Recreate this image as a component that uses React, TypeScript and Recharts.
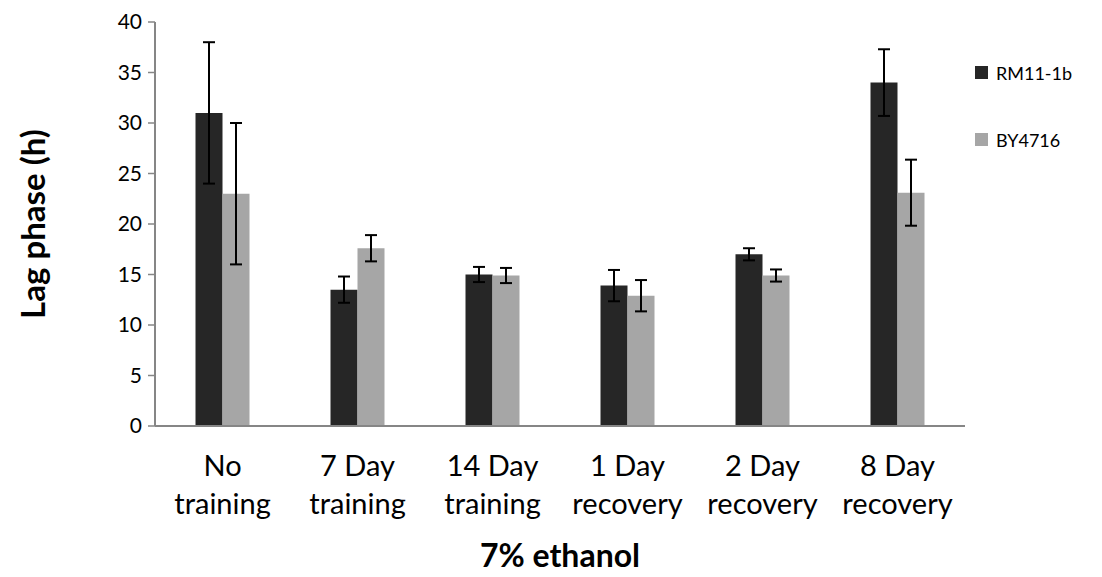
import React from 'react';
import { BarChart, Bar, XAxis, YAxis, ErrorBar } from 'recharts';

const categories = ['No training', '7 Day training', '14 Day training', '1 Day recovery', '2 Day recovery', '8 Day recovery'];
const labelLine1 = ['No', '7 Day', '14 Day', '1 Day', '2 Day', '8 Day'];
const labelLine2 = ['training', 'training', 'training', 'recovery', 'recovery', 'recovery'];
const rm11 = [31, 13.5, 15, 13.9, 17, 34];
const rm11Err = [7, 1.3, 0.75, 1.55, 0.6, 3.3];
const by4716 = [23, 17.6, 14.9, 12.9, 14.9, 23.1];
const by4716Err = [7, 1.3, 0.75, 1.55, 0.6, 3.27];
const yTicks = [0, 5, 10, 15, 20, 25, 30, 35, 40];
const seriesNames = ['RM11-1b', 'BY4716'];

const data = categories.map((c, i) => ({
  name: c,
  rm: rm11[i],
  rmErr: rm11Err[i],
  by: by4716[i],
  byErr: by4716Err[i],
}));

const FONT = 'Lato, "Open Sans", sans-serif';
const DARK = '#262626';
const LIGHT = '#a6a6a6';
const AXIS = '#868686';
const SERIES_COLORS = [DARK, LIGHT];

const XTick = (props: any) => {
  const { x, y, payload, index } = props;
  const i = payload?.index ?? index;
  return (
    <g transform={`translate(${x},${y})`}>
      <text textAnchor="middle" fontFamily={FONT} fontSize={29} fill="#000">
        <tspan x={0} dy={42}>{labelLine1[i]}</tspan>
        <tspan x={0} dy={38}>{labelLine2[i]}</tspan>
      </text>
    </g>
  );
};

export default function App() {
  return (
    <div style={{ position: 'absolute', left: 0, top: 0, background: '#fff' }}>
      <BarChart
        width={1102}
        height={577}
        data={data}
        margin={{ top: 22, right: 137, bottom: 0, left: 0 }}
        barCategoryGap="30%"
        barGap={0}
      >
        <XAxis
          dataKey="name"
          tick={<XTick />}
          tickLine={false}
          axisLine={{ stroke: AXIS, strokeWidth: 2 }}
          interval={0}
          height={151}
        />
        <YAxis
          domain={[0, 40]}
          ticks={yTicks}
          tick={{ fontFamily: FONT, fontSize: 21, fill: '#000' }}
          tickLine={{ stroke: AXIS, strokeWidth: 1.5 }}
          tickSize={7}
          tickMargin={6}
          axisLine={{ stroke: AXIS, strokeWidth: 2 }}
          width={155}
          interval={0}
        />
        <Bar dataKey="rm" name="RM11-1b" fill={DARK} isAnimationActive={false}>
          <ErrorBar dataKey="rmErr" width={6} stroke="#000" strokeWidth={2} direction="y" />
        </Bar>
        <Bar dataKey="by" name="BY4716" fill={LIGHT} isAnimationActive={false}>
          <ErrorBar dataKey="byErr" width={6} stroke="#000" strokeWidth={2} direction="y" />
        </Bar>
        {seriesNames.map((n, i) => (
          <g key={n}>
            <rect x={975} y={66 + i * 67} width={13} height={13} fill={SERIES_COLORS[i]} />
            <text x={996} y={73 + i * 67} dominantBaseline="central" fontFamily={FONT} fontSize={18} fill="#000">{n}</text>
          </g>
        ))}
        <text x={560} y={567} textAnchor="middle" fontFamily={FONT} fontWeight="bold" fontSize={32} fill="#000">7% ethanol</text>
        <text
          x={0}
          y={0}
          transform="translate(32,224) rotate(-90)"
          textAnchor="middle"
          dominantBaseline="central"
          fontFamily={FONT}
          fontWeight="bold"
          fontSize={33}
          fill="#000"
        >
          Lag phase (h)
        </text>
      </BarChart>
    </div>
  );
}
